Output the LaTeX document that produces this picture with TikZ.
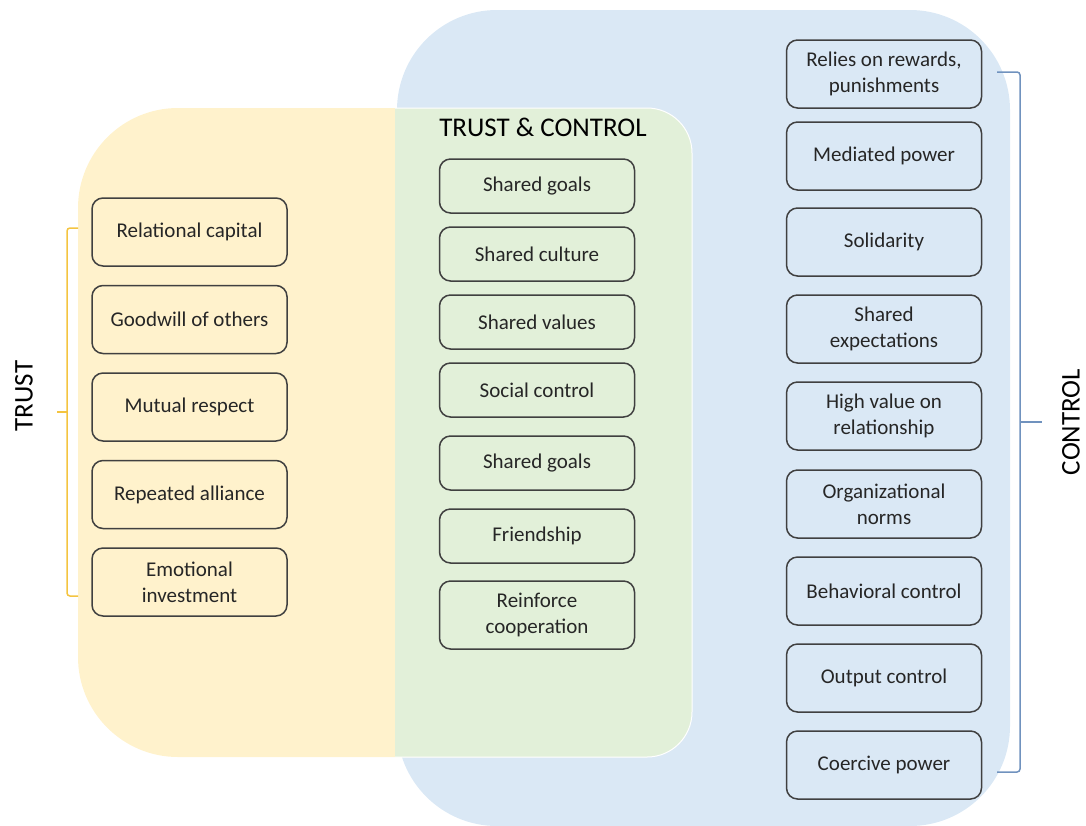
\documentclass[tikz,border=0pt]{standalone}
\usepackage{fontspec}
\setmainfont{Carlito}
\usetikzlibrary{positioning}

\definecolor{trustbg}{RGB}{255,242,204}
\definecolor{ctrlbg}{RGB}{218,232,245}
\definecolor{bothbg}{RGB}{226,240,217}
\definecolor{boxline}{RGB}{64,64,64}
\definecolor{textdark}{RGB}{38,38,38}
\definecolor{trustbrace}{RGB}{244,196,64}
\definecolor{ctrlbrace}{RGB}{112,146,190}

\begin{document}
\begin{tikzpicture}[x=1pt, y=-1pt,
    % --- 全域樣式設定 ---
    item box/.style={draw=boxline, line width=1.5pt, rounded corners=11pt,
        minimum width=195pt, minimum height=68pt, inner sep=0pt, outer sep=0pt,
        align=center, text=textdark, font=\fontsize{21}{26}\selectfont},
    short box/.style={item box, minimum height=54pt},
    side label/.style={rotate=90, text=black, font=\fontsize{27}{32}\selectfont},
    header text/.style={text=black, font=\fontsize{27}{32}\selectfont},
    % 左右兩側的括號
    trust brace/.style={draw=trustbrace, line width=1.5pt, rounded corners=3pt},
    ctrl brace/.style={draw=ctrlbrace, line width=1.5pt, rounded corners=3pt}
]

    \useasboundingbox (0,0) rectangle (1086,825);

    % --- 1. 背景區塊 (CONTROL / TRUST / 重疊區) ---
    \fill[ctrlbg, rounded corners=100pt] (397,10) rectangle (1010,826);
    \fill[trustbg, rounded corners=100pt] (78,108) rectangle (600,757);
    \begin{scope}
        \clip (395,100) rectangle (700,765);
        \fill[bothbg, draw=white, line width=1pt, rounded corners=45pt] (300,108) rectangle (692,757);
    \end{scope}

    % --- 2. 左側 (TRUST) ---
    \node[side label] (trust_lab) at (24,396) {TRUST};
    \node[item box] (t1) at (189.5,232) {Relational capital};
    \node[item box, below=19.5pt of t1] (t2) {Goodwill of others};
    \node[item box, below=19.5pt of t2] (t3) {Mutual respect};
    \node[item box, below=19.5pt of t3] (t4) {Repeated alliance};
    \node[item box, below=19.5pt of t4] (t5) {Emotional\\investment};

    \draw[trust brace] (78,228) -- (67,228) -- (67,596) -- (78,596);
    \draw[trust brace] (67,412) -- (57,412);

    % --- 3. 中間 (TRUST & CONTROL) ---
    \node[header text] (both_lab) at (543,127) {TRUST \& CONTROL};
    \node[short box] (b1) at (537,186) {Shared goals};
    \node[short box, below=14pt of b1] (b2) {Shared culture};
    \node[short box, below=14pt of b2] (b3) {Shared values};
    \node[short box, below=14pt of b3] (b4) {Social control};
    \node[short box, below=19pt of b4] (b5) {Shared goals};
    \node[short box, below=19pt of b5] (b6) {Friendship};
    \node[item box, below=18pt of b6] (b7) {Reinforce\\cooperation};

    % --- 4. 右側 (CONTROL) ---
    \node[item box] (c1) at (884,74) {Relies on rewards,\\punishments};
    \node[item box, below=14pt of c1] (c2) {Mediated power};
    \node[item box, below=18pt of c2] (c3) {Solidarity};
    \node[item box, below=19pt of c3] (c4) {Shared\\expectations};
    \node[item box, below=19pt of c4] (c5) {High value on\\relationship};
    \node[item box, below=20pt of c5] (c6) {Organizational\\norms};
    \node[item box, below=19pt of c6] (c7) {Behavioral control};
    \node[item box, below=19pt of c7] (c8) {Output control};
    \node[item box, below=19pt of c8] (c9) {Coercive power};

    \draw[ctrl brace] (997,72) -- (1020,72) -- (1020,772) -- (997,772);
    \draw[ctrl brace] (1020,422) -- (1042,422);
    \node[side label] (ctrl_lab) at (1071,422) {CONTROL};

\end{tikzpicture}
\end{document}
